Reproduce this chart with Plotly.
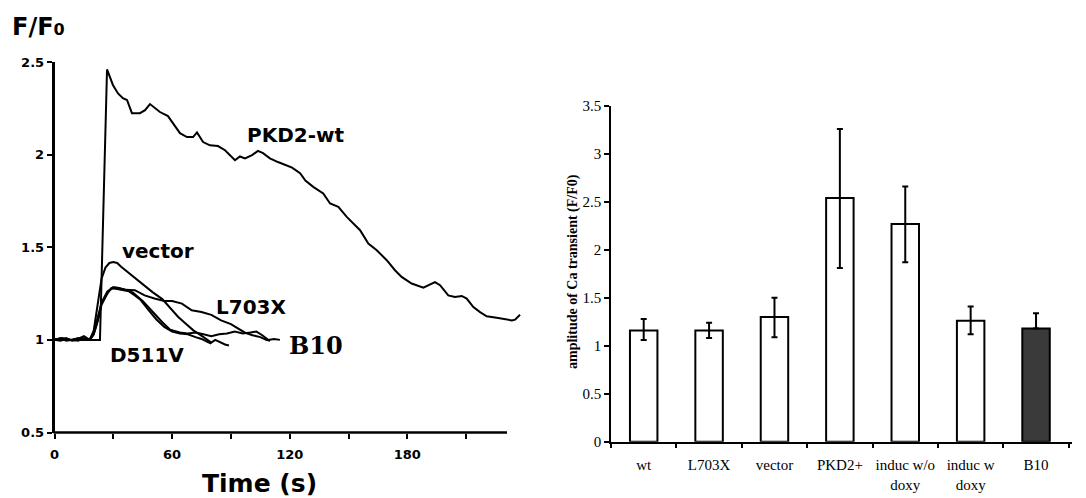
import plotly.graph_objects as go

# ---------------- Left panel: Ca transients (F/F0 vs time) ----------------
pkd_t = [0, 4, 8, 12, 16, 20, 23.2, 26.8, 29.8, 32.4, 34.9, 37.0, 39.5, 43.6, 46.2, 48.7,
         51.3, 53.8, 57.9, 60.5, 64.0, 67.6, 70.7, 72.7, 75.8, 79.3, 83.4, 87.0, 89.5, 92.1,
         94.6, 97.2, 100.8, 103.8, 106.4, 109.9, 114.0, 117.6, 121.2, 125.3, 128, 132.0,
         137.1, 140.6, 144.8, 149.1, 155.9, 160.1, 164.4, 169.5, 173.7, 177.1, 182.2, 188.2,
         194.1, 196.7, 200.9, 204.3, 207.8, 210.3, 213.7, 217.1, 220.5, 225.6, 233.3, 235.0, 237.5]
pkd_v = [1.0, 1.01, 1.0, 1.005, 1.0, 1.0, 1.0, 2.46, 2.376, 2.33, 2.305, 2.295, 2.224, 2.224,
         2.24, 2.273, 2.251, 2.23, 2.208, 2.17, 2.116, 2.095, 2.095, 2.12, 2.068, 2.05, 2.046,
         2.024, 1.997, 1.97, 1.99, 1.98, 1.997, 2.02, 2.008, 1.98, 1.96, 1.943, 1.93, 1.90,
         1.86, 1.826, 1.79, 1.736, 1.718, 1.664, 1.592, 1.52, 1.484, 1.43, 1.376, 1.34, 1.304,
         1.282, 1.312, 1.295, 1.24, 1.231, 1.237, 1.223, 1.177, 1.15, 1.127, 1.12, 1.105, 1.109, 1.136]

vec_t = [0, 3, 6, 9, 12, 15, 18, 20, 22, 24, 26, 28, 30, 32, 34, 38, 42, 46, 50, 55, 59, 63,
         67, 71, 74, 77, 80, 82, 84, 87, 89]
vec_v = [1.0, 1.01, 0.995, 1.0, 1.005, 1.02, 1.0, 1.05, 1.2, 1.33, 1.39, 1.415, 1.42, 1.415,
         1.395, 1.36, 1.325, 1.29, 1.258, 1.22, 1.175, 1.125, 1.087, 1.05, 1.03, 1.005, 0.985,
         1.0, 0.99, 0.975, 0.97]

l703_t = [0, 3, 6, 9, 12, 15, 18, 20, 22, 24, 27, 30, 33, 36, 41, 46, 51, 56, 60, 65, 70, 75,
          80, 85, 90, 94, 97, 101, 105, 108, 110]
l703_v = [1.005, 1.0, 1.01, 0.995, 1.0, 1.0, 1.005, 1.04, 1.12, 1.2, 1.26, 1.285, 1.28, 1.27,
          1.268, 1.24, 1.223, 1.21, 1.21, 1.196, 1.16, 1.15, 1.135, 1.105, 1.085, 1.06, 1.04,
          1.025, 1.015, 1.0, 0.995]

d511_t = [0, 3, 6, 9, 12, 15, 18, 20, 22, 24, 27, 29, 32, 35, 38, 41, 44, 48, 52, 56, 60, 64,
          68, 72, 75, 78, 80]
d511_v = [1.0, 0.995, 1.005, 1.0, 1.01, 1.0, 1.0, 1.03, 1.1, 1.19, 1.25, 1.28, 1.275, 1.27,
          1.262, 1.24, 1.215, 1.16, 1.11, 1.07, 1.045, 1.035, 1.03, 1.015, 1.005, 0.99, 0.98]

b10_t = [0, 3, 6, 9, 12, 15, 18, 20, 22, 24, 27, 30, 35, 40, 45, 50, 55, 59, 64, 68, 72, 76,
         80, 84, 88, 92, 96, 100, 103, 106, 109, 112, 115]
b10_v = [1.0, 1.005, 1.0, 1.0, 0.995, 1.01, 1.0, 1.03, 1.1, 1.2, 1.26, 1.28, 1.275, 1.255,
         1.21, 1.15, 1.095, 1.055, 1.04, 1.035, 1.04, 1.03, 1.02, 1.03, 1.035, 1.045, 1.035,
         1.04, 1.045, 1.025, 1.0, 1.005, 1.0]

left_xticks = [0, 30, 60, 90, 120, 150, 180, 210]
left_xticktext = ["0", "", "60", "", "120", "", "180", ""]
left_yticks = [0.5, 1, 1.5, 2, 2.5]
left_yticktext = ["0.5", "1", "1.5", "2", "2.5"]

# series label positions (time, F/F0)
label_names = ["PKD2-wt", "vector", "L703X", "D511V"]
label_t = [123.2, 52.6, 100.0, 47.4]
label_v = [2.105, 1.478, 1.177, 0.916]
b10_label_t = 133.4
b10_label_v = 0.970

# ---------------- Right panel: amplitude bars ----------------
categories = ["wt", "L703X", "vector", "PKD2+", "induc w/o<br>doxy", "induc w<br>doxy", "B10"]
amplitude = [1.16, 1.16, 1.30, 2.54, 2.27, 1.26, 1.18]
err_plus = [0.12, 0.08, 0.20, 0.72, 0.39, 0.15, 0.16]
err_minus = [0.10, 0.08, 0.21, 0.73, 0.40, 0.14, 0.0]
bar_colors = ["white", "white", "white", "white", "white", "white", "#3a3a3a"]
right_yticks = [0, 0.5, 1, 1.5, 2, 2.5, 3, 3.5]
right_yticktext = ["0", "0.5", "1", "1.5", "2", "2.5", "3", "3.5"]

# page offset (default body margin) -> figure drawn 8px right/down
OFF = 8
W, H = 1086 - OFF, 498 - OFF


def px(x):
    return (x - OFF) / W


def py(y):
    return (H - (y - OFF)) / H


fig = go.Figure()

for t, v in [(pkd_t, pkd_v), (vec_t, vec_v), (l703_t, l703_v), (d511_t, d511_v), (b10_t, b10_v)]:
    fig.add_trace(go.Scatter(x=t, y=v, mode="lines", line=dict(color="black", width=2),
                             xaxis="x", yaxis="y", showlegend=False, hoverinfo="skip"))

fig.add_trace(go.Bar(x=categories, y=amplitude, width=0.42,
                     marker=dict(color=bar_colors, line=dict(color="black", width=2)),
                     error_y=dict(type="data", symmetric=False, array=err_plus,
                                  arrayminus=err_minus, color="black", thickness=2, width=3),
                     xaxis="x2", yaxis="y2", showlegend=False))


def bold(lst):
    return ["<b>%s</b>" % s if s else "" for s in lst]


sans = dict(family="DejaVu Sans", color="black")
serif = dict(family="Liberation Serif", color="black")

fig.update_layout(
    width=W, height=H, autosize=False,
    margin=dict(l=0, r=0, t=0, b=0, pad=0, autoexpand=False),
    paper_bgcolor="white", plot_bgcolor="white",
    xaxis=dict(domain=[px(54.5), px(521)], range=[0, 238], anchor="y", automargin=False,
               showline=False, showgrid=False, zeroline=False,
               tickmode="array", tickvals=left_xticks, ticktext=bold(left_xticktext),
               ticks="outside", ticklen=5, tickwidth=2, tickcolor="black", tickangle=0,
               ticklabelstandoff=5,
               tickfont=dict(size=13, **sans)),
    yaxis=dict(domain=[py(432.5), py(62)], range=[0.5, 2.5], anchor="x",
               automargin=False,
               showline=True, linewidth=2.5, linecolor="black", showgrid=False, zeroline=False,
               tickmode="array", tickvals=left_yticks, ticktext=bold(left_yticktext),
               ticks="outside", ticklen=5, tickwidth=2, tickcolor="black",
               tickfont=dict(size=13, **sans)),
    xaxis2=dict(domain=[px(611), px(1072)], type="category", range=[-0.5, 6.55], anchor="y2",
                automargin=False,
                showline=True, linewidth=1.5, linecolor="black", showgrid=False, zeroline=False,
                ticks="outside", tickson="boundaries", ticklen=5, tickwidth=1.5, tickcolor="black",
                tickangle=0, ticklabelstandoff=9,
                tickfont=dict(size=15, **serif)),
    yaxis2=dict(domain=[py(441.7), py(106)], range=[0, 3.5], anchor="x2",
                automargin=False,
                showline=True, linewidth=1.5, linecolor="black", showgrid=False, zeroline=False,
                tickmode="array", tickvals=right_yticks, ticktext=right_yticktext,
                ticks="outside", ticklen=5, tickwidth=1.5, tickcolor="black",
                tickfont=dict(size=15, **serif)),
)

# left x-axis line (ends before the last data point like in the original)
fig.add_shape(type="line", xref="paper", yref="paper",
              x0=px(53.5), x1=px(507), y0=py(432.5), y1=py(432.5),
              line=dict(color="black", width=2.5))

for name, t, v in zip(label_names, label_t, label_v):
    fig.add_annotation(x=t, y=v, xref="x", yref="y", text="<b>%s</b>" % name, showarrow=False,
                       xanchor="center", yanchor="middle", font=dict(size=20, **sans))
fig.add_annotation(x=b10_label_t, y=b10_label_v, xref="x", yref="y", text="<b>B10</b>",
                   xanchor="center", yanchor="middle",
                   showarrow=False, font=dict(family="DejaVu Serif", size=24, color="black"))

fig.add_annotation(x=px(10), y=py(27), xref="paper", yref="paper", xanchor="left",
                   yanchor="middle",
                   text="<b>F/F<span style='font-size:16px'>0</span></b>", showarrow=False,
                   font=dict(size=24, **sans))
fig.add_annotation(x=px(259), y=py(483), xref="paper", yref="paper",
                   xanchor="center", yanchor="middle",
                   text="<b>Time (s)</b>", showarrow=False, font=dict(size=25, **sans))
fig.add_annotation(x=px(573), y=py(272), xref="paper", yref="paper", textangle=-90,
                   xanchor="center", yanchor="middle",
                   text="<b>amplitude of Ca transient (F/F0)</b>", showarrow=False,
                   font=dict(size=14, **serif))

fig.write_html("out.html")
